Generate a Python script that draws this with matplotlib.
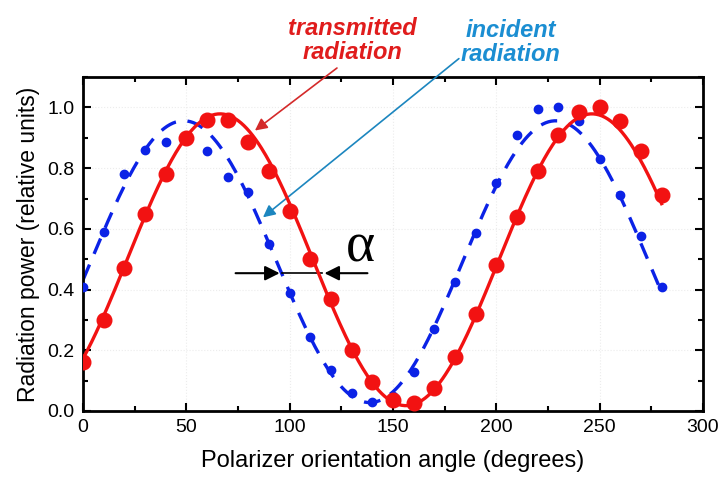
import numpy as np
import matplotlib.pyplot as plt
from matplotlib.ticker import MultipleLocator

# polarizer angle (degrees)
angle = [0, 10, 20, 30, 40, 50, 60, 70, 80, 90, 100, 110, 120, 130, 140,
         150, 160, 170, 180, 190, 200, 210, 220, 230, 240, 250, 260, 270, 280]

# incident radiation (blue points)
incident = [0.41, 0.59, 0.78, 0.86, 0.885, 0.90, 0.855, 0.77, 0.72, 0.55, 0.39,
            0.245, 0.135, 0.06, 0.03, 0.05, 0.13, 0.27, 0.425, 0.585, 0.75,
            0.91, 0.995, 1.0, 0.955, 0.83, 0.71, 0.575, 0.41]

# transmitted radiation (red points)
transmitted = [0.16, 0.30, 0.47, 0.65, 0.78, 0.90, 0.96, 0.96, 0.885, 0.79, 0.66,
               0.50, 0.37, 0.20, 0.095, 0.036, 0.026, 0.075, 0.178, 0.32, 0.48,
               0.64, 0.79, 0.91, 0.985, 1.0, 0.955, 0.855, 0.71]

plt.rcParams['font.family'] = ['Liberation Sans', 'DejaVu Sans']


def malus_fit(x, y):
    # least squares fit of y = a + b*cos(2x) + c*sin(2x)
    t = np.radians(np.asarray(x, dtype=float))
    A = np.column_stack([np.ones_like(t), np.cos(2 * t), np.sin(2 * t)])
    coef, *_ = np.linalg.lstsq(A, np.asarray(y), rcond=None)
    xs = np.linspace(min(x), max(x), 400)
    ts = np.radians(xs)
    return xs, coef[0] + coef[1] * np.cos(2 * ts) + coef[2] * np.sin(2 * ts)


fig = plt.figure(figsize=(7.18, 4.79), dpi=100)
ax = fig.add_axes([0.1156, 0.142, 0.8634, 0.697])

blue = '#0b22e6'
red = '#f21212'

xb, yb = malus_fit(angle, incident)
ax.plot(xb, yb, color=blue, lw=2.4, ls=(0, (5, 3.5)), zorder=2)
ax.plot(angle, incident, 'o', color=blue, ms=6, zorder=3)

xr, yr = malus_fit(angle, transmitted)
ax.plot(xr, yr, color=red, lw=2.4, zorder=4)
ax.plot(angle, transmitted, 'o', color=red, ms=10.5, zorder=5)

ax.set_xlim(0, 300)
ax.set_ylim(0, 1.1)
ax.xaxis.set_major_locator(MultipleLocator(50))
ax.xaxis.set_minor_locator(MultipleLocator(25))
ax.yaxis.set_major_locator(MultipleLocator(0.2))
ax.yaxis.set_minor_locator(MultipleLocator(0.1))
ax.yaxis.set_major_formatter(plt.FormatStrFormatter('%.1f'))
ax.tick_params(which='both', direction='in', top=True, right=True, width=1.5)
ax.tick_params(which='major', length=6, labelsize=14, pad=6)
ax.tick_params(which='minor', length=3.5)
for s in ax.spines.values():
    s.set_linewidth(2)
ax.grid(True, which='major', color='#ececec', lw=0.8, ls=':')

ax.set_xlabel('Polarizer orientation angle (degrees)', fontsize=17, labelpad=10)
ax.set_ylabel('Radiation power (relative units)', fontsize=16.5, labelpad=5)

# phase shift marker
ax.annotate('', xy=(96.5, 0.454), xytext=(72.5, 0.454),
            arrowprops=dict(arrowstyle='-|>', color='black', lw=1.5, mutation_scale=22))
ax.annotate('', xy=(115.5, 0.454), xytext=(139, 0.454),
            arrowprops=dict(arrowstyle='-|>', color='black', lw=1.5, mutation_scale=22))
ax.plot([96.5, 115.5], [0.454, 0.454], color='black', lw=1.2)
ax.text(134.5, 0.54, 'α', fontsize=40, family='Liberation Serif', ha='center', va='center')

# labels with arrows
ax.text(0.434, 1.11, 'transmitted\nradiation', transform=ax.transAxes,
        ha='center', va='center', fontsize=17, color='#e01c1c',
        fontweight='bold', fontstyle='italic', linespacing=1.05)
ax.annotate('', xy=(83.2, 0.924), xytext=(122.9, 1.13), annotation_clip=False,
            arrowprops=dict(arrowstyle='-|>', color='#d42a2a', lw=1.2,
                            mutation_scale=18, shrinkA=0, shrinkB=0))
ax.text(0.69, 1.103, 'incident\nradiation', transform=ax.transAxes,
        ha='center', va='center', fontsize=17, color='#1b8ed2',
        fontweight='bold', fontstyle='italic', linespacing=1.05)
ax.annotate('', xy=(87.1, 0.638), xytext=(181.9, 1.161), annotation_clip=False,
            arrowprops=dict(arrowstyle='-|>', color='#1c86bf', lw=1.2,
                            mutation_scale=18, shrinkA=0, shrinkB=0))

fig.savefig('out.png', dpi=100)
